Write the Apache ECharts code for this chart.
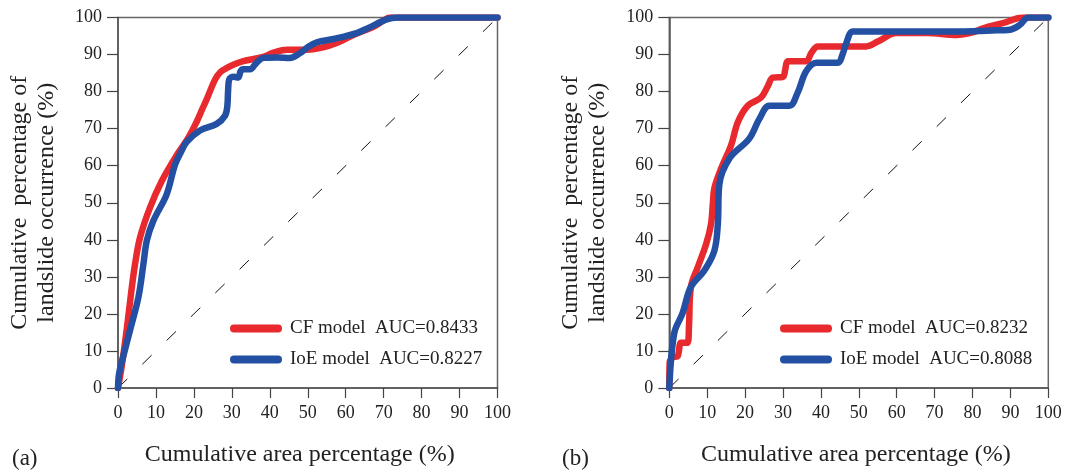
<!DOCTYPE html>
<html>
<head>
<meta charset="utf-8">
<script src="https://cdn.jsdelivr.net/npm/echarts@6/dist/echarts.min.js"></script>
<style>html,body{margin:0;padding:0;background:#fff}#c{width:1067px;height:472px}</style>
</head>
<body>
<div id="c"></div>
<script>
// ---- data ----
var cfA = [[0,0],[1,6],[2.3,15.8],[3.5,26],[4.5,33.5],[5.8,40.6],[8.4,48.6],[11.5,55.8],[15.5,62.9],[18.5,67.5],[20.7,71.8],[22.3,75.5],[23.4,78],[25.6,83.3],[27,85.3],[28.7,86.4],[31,87.5],[33,88.2],[38.3,89.4],[41,90.5],[44.5,91.3],[49.7,91.3],[55,92.2],[58.5,93.5],[62,95.3],[67.3,97.5],[70,99.2],[71.7,100],[80,100],[100,100]];
var ioeA = [[0,0],[0.3,4],[1.5,9],[3.2,15.7],[5.4,24.6],[6.7,33.5],[7.6,39.8],[9.3,45.1],[12.8,52.2],[15,60.2],[16.5,63.5],[18.1,66.4],[21.6,69.5],[26,71.3],[28.2,73.5],[28.8,76],[29.0,80],[29.3,83.3],[30.5,84],[31.7,83.8],[32.3,85.5],[33,86],[34.8,86],[36.5,87.8],[38.3,89.1],[42,89.2],[45.3,89.1],[48,90.4],[50,92],[52.4,93.3],[56.8,94.2],[62.9,95.8],[66,97.2],[70.8,99.5],[73.6,100],[80,100],[100,100]];
var cfB = [[0,0],[0.1,7],[1,8.3],[2.2,8.6],[3.1,12.2],[4.8,12.2],[5.2,17],[5.7,27.3],[7.5,32.6],[9.7,38.8],[11,44.2],[11.5,50],[11.9,54],[13.7,59.3],[16.3,65.5],[18.1,71.8],[20.7,76.2],[24.2,78.4],[26,81.5],[27.3,83.8],[30,84],[30.6,86],[31.3,88.2],[36.1,88.2],[37.5,90.5],[39.2,92.2],[52,92.2],[55,93.5],[59.9,95.8],[68,95.8],[75.8,95.3],[80,96],[82.8,97.1],[88,98.5],[93.4,100],[100,100]];
var ioeB = [[0,0],[1.3,14.8],[3.5,20.2],[5.7,27.3],[9.3,31.8],[11.9,37.1],[12.8,44.2],[13.2,54.9],[15.9,62],[21.1,67.3],[23.8,72.7],[26.4,76.2],[31.7,76.2],[33.9,79.8],[36.1,85.5],[38.8,87.8],[44.5,87.8],[45.7,90],[46.7,93.1],[48.5,96.2],[60,96.2],[75,96.2],[85,96.5],[89.9,96.7],[92.5,98],[94.7,100],[100,100]];
var diag = [[0,0],[100,100]];
var namesA = ['CF model  AUC=0.8433', 'IoE model  AUC=0.8227'];
var namesB = ['CF model  AUC=0.8232', 'IoE model  AUC=0.8088'];
var xName = 'Cumulative area percentage (%)';
var yName = 'Cumulative  percentage of\nlandslide occurrence (%)';
var panelLabels = ['(a)', '(b)'];

var FONT = '"Liberation Serif","DejaVu Serif",serif';
var RED = '#e8292e', BLUE = '#2350a2';
var capsule = 'path://M4,0 H48 A4,4 0 0 1 48,8 H4 A4,4 0 0 1 4,0 Z';

function xAxis(i, shift){
  return {gridIndex:i, type:'value', min:0, max:100, interval:10,
    name:xName, nameLocation:'middle', nameGap:55,
    nameTextStyle:{fontFamily:FONT, fontSize:24, color:'#222', padding:[0, shift, 0, 0]},
    axisLine:{show:true, lineStyle:{color:'#555', width:1.5}},
    axisTick:{show:true, length:10, lineStyle:{color:'#444', width:1.2}},
    axisLabel:{fontFamily:FONT, fontSize:18, color:'#222', margin:16},
    splitLine:{show:false}};
}
function yAxis(i){
  return {gridIndex:i, type:'value', min:0, max:100, interval:10,
    name:yName, nameLocation:'middle', nameGap:58, nameRotate:90,
    nameTextStyle:{fontFamily:FONT, fontSize:24, color:'#222', lineHeight:27, align:'center'},
    axisLine:{show:true, lineStyle:{color:'#555', width:1.5}},
    axisTick:{show:true, length:11, lineStyle:{color:'#444', width:1.2}},
    axisLabel:{fontFamily:FONT, fontSize:18, color:'#222', margin:16},
    splitLine:{show:false}};
}
function curve(name, data, color, i){
  return {name:name, type:'line', xAxisIndex:i, yAxisIndex:i, data:data,
    smooth:0.35, showSymbol:false, symbol:'none', color:color,
    lineStyle:{color:color, width:6.5, cap:'round', join:'round'}, z:3};
}
function diagonal(i){
  return {type:'line', xAxisIndex:i, yAxisIndex:i, data:diag, silent:true,
    showSymbol:false, symbol:'none', z:2,
    lineStyle:{color:'#111', width:1, type:[13,21]}};
}

var chart = echarts.init(document.getElementById('c'));
chart.setOption({
  animation:false,
  backgroundColor:'#fff',
  grid:[
    {left:118, right:569.5, top:17.5, bottom:79.7, show:true, borderColor:'#666', borderWidth:1.5},
    {left:669.3, right:18.7, top:17.5, bottom:79.7, show:true, borderColor:'#666', borderWidth:1.5}
  ],
  xAxis:[xAxis(0, 16), xAxis(1, 6)],
  yAxis:[yAxis(0), yAxis(1)],
  title:[
    {text:panelLabels[0], left:12, top:447, textStyle:{fontFamily:FONT, fontSize:23, fontWeight:'normal', color:'#222'}, padding:0},
    {text:panelLabels[1], left:562, top:447, textStyle:{fontFamily:FONT, fontSize:23, fontWeight:'normal', color:'#222'}, padding:0}
  ],
  legend:[
    {data:namesA, orient:'vertical', left:230, top:319, itemGap:12, itemWidth:52, itemHeight:8, icon:capsule,
      padding:0, textStyle:{fontFamily:FONT, fontSize:19, color:'#222', padding:[0,0,0,3]}},
    {data:namesB, orient:'vertical', left:780, top:319, itemGap:12, itemWidth:52, itemHeight:8, icon:capsule,
      padding:0, textStyle:{fontFamily:FONT, fontSize:19, color:'#222', padding:[0,0,0,3]}}
  ],
  series:[
    diagonal(0),
    curve(namesA[0], cfA, RED, 0),
    curve(namesA[1], ioeA, BLUE, 0),
    diagonal(1),
    curve(namesB[0], cfB, RED, 1),
    curve(namesB[1], ioeB, BLUE, 1)
  ]
});
</script>
</body>
</html>
